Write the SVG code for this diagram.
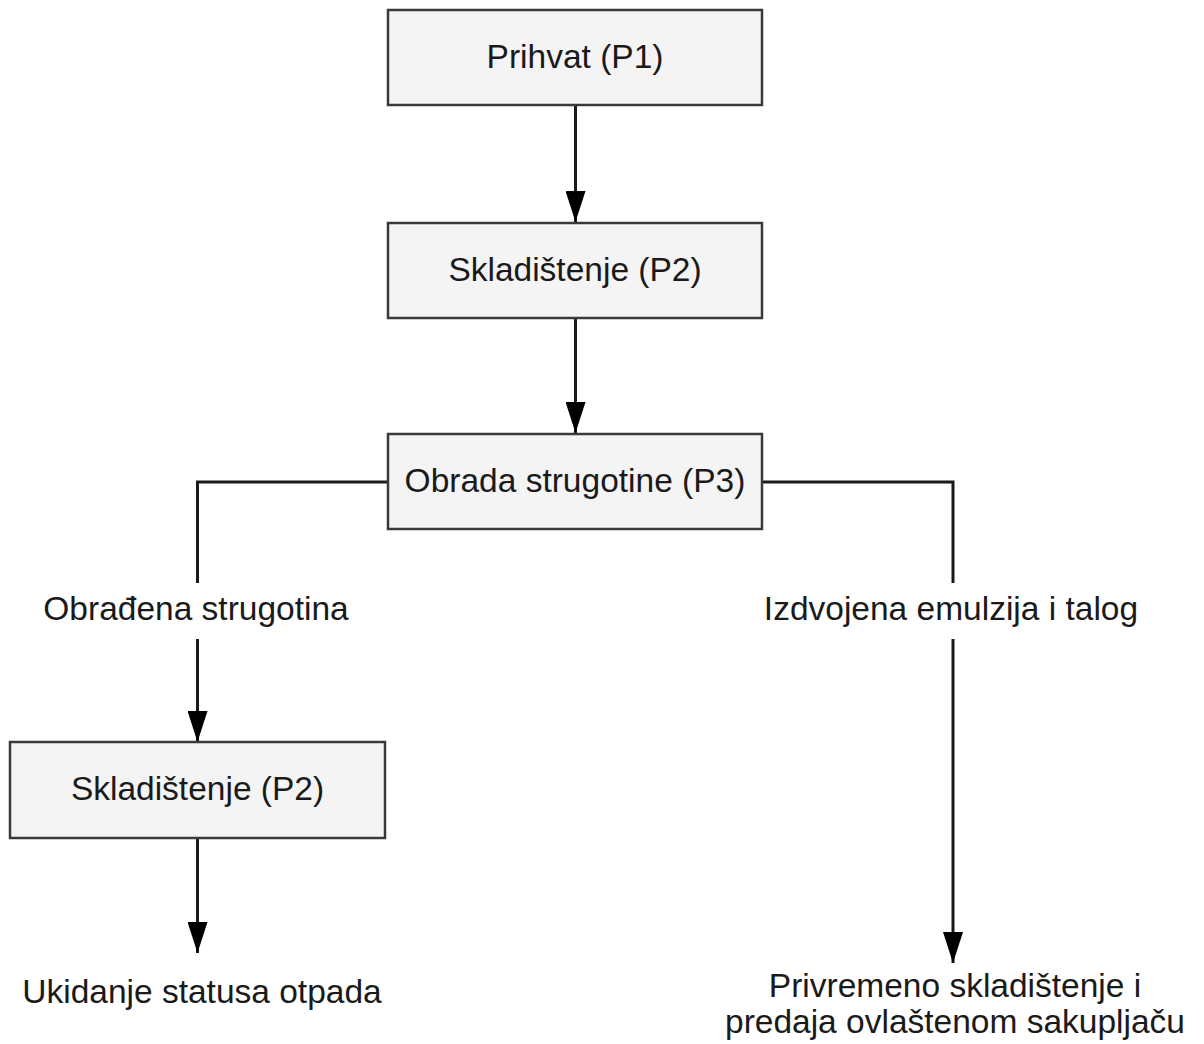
<svg xmlns="http://www.w3.org/2000/svg" width="1204" height="1044" viewBox="0 0 1204 1044">
<style>
.box{fill:#f4f4f4;stroke:#3a3a3a;stroke-width:2.5}
.t{font-family:"Liberation Sans",Arial,sans-serif;font-size:33.5px;fill:#1a1a1a;text-anchor:middle}
.c{fill:none;stroke:#1a1a1a;stroke-width:3}
</style>
<defs>
<marker id="ah" markerWidth="31" markerHeight="20" refX="31" refY="10" orient="auto" markerUnits="userSpaceOnUse" viewBox="0 0 31 20">
<path d="M0,0 L31,10 L0,20 Z" fill="#000"/>
</marker>
</defs>
<g id="connectors">
<line class="c" x1="575.5" y1="105" x2="575.5" y2="222" marker-end="url(#ah)"/>
<line class="c" x1="575.5" y1="318" x2="575.5" y2="433" marker-end="url(#ah)"/>
<polyline class="c" points="388,482 197.5,482 197.5,583"/>
<line class="c" x1="197.5" y1="639" x2="197.5" y2="742" marker-end="url(#ah)"/>
<line class="c" x1="197.5" y1="838" x2="197.5" y2="953" marker-end="url(#ah)"/>
<polyline class="c" points="762,482 953,482 953,583"/>
<line class="c" x1="953" y1="639" x2="953" y2="963" marker-end="url(#ah)"/>
</g>
<g id="p1"><rect class="box" x="388" y="10" width="374" height="95"/><text class="t" x="575" y="68">Prihvat (P1)</text></g>
<g id="p2a"><rect class="box" x="388" y="223" width="374" height="95"/><text class="t" x="575" y="281">Skladištenje (P2)</text></g>
<g id="p3"><rect class="box" x="388" y="434" width="374" height="95"/><text class="t" x="575" y="492">Obrada strugotine (P3)</text></g>
<g id="lbl1"><text class="t" x="196" y="620">Obrađena strugotina</text></g>
<g id="lbl2"><text class="t" x="951" y="620">Izdvojena emulzija i talog</text></g>
<g id="p2b"><rect class="box" x="10" y="742" width="375" height="96"/><text class="t" x="197.5" y="800">Skladištenje (P2)</text></g>
<g id="end1"><text class="t" x="202" y="1003">Ukidanje statusa otpada</text></g>
<g id="end2"><text class="t" x="955" y="997">Privremeno skladištenje i</text><text class="t" x="955" y="1033">predaja ovlaštenom sakupljaču</text></g>
</svg>
